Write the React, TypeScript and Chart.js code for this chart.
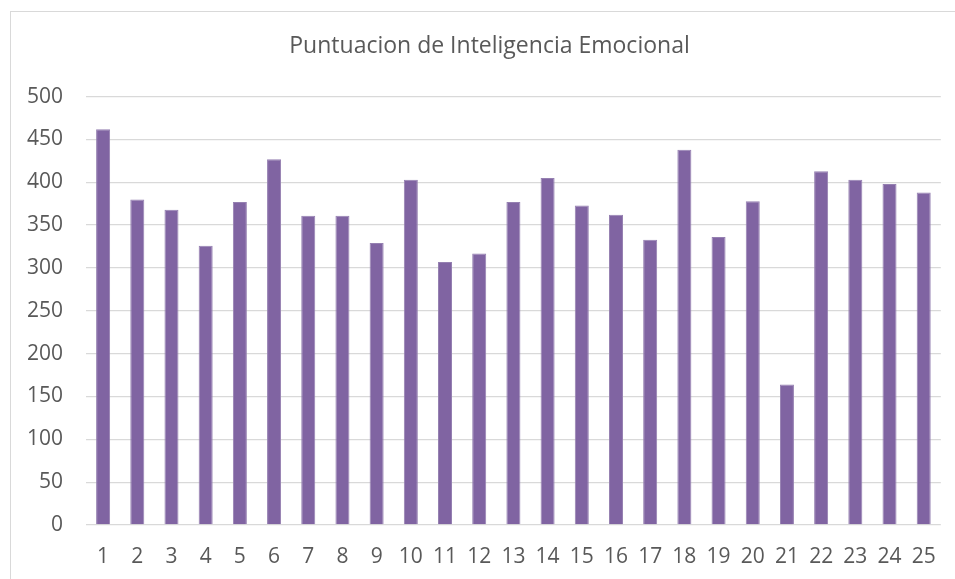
import React, { useEffect, useRef } from "react";
import { Chart, registerables } from "chart.js";

Chart.register(...registerables);

const categories = ["1","2","3","4","5","6","7","8","9","10","11","12","13","14","15","16","17","18","19","20","21","22","23","24","25"];
const scores = [462, 380, 368, 326, 377, 427, 361, 361, 329, 403, 307, 317, 377, 405, 373, 362, 333, 438, 336, 378, 164, 413, 403, 398, 388];
const chartTitle = "Puntuacion de Inteligencia Emocional";
const yMin = 0;
const yMax = 500;
const yStep = 50;

const FONT = "'Open Sans', sans-serif";
const TEXT = "#595959";

const frame = {
  id: "frame",
  afterLayout(chart: any) {
    if (chart.titleBlock) {
      chart.titleBlock.left = 38;
    }
  },
  beforeDraw(chart: any) {
    const ctx = chart.ctx;
    ctx.save();
    ctx.fillStyle = "#ffffff";
    ctx.fillRect(0, 0, chart.width, chart.height);
    ctx.strokeStyle = "#d9d9d9";
    ctx.lineWidth = 1;
    ctx.strokeRect(10.5, 11.5, chart.width + 20, chart.height + 20);
    ctx.restore();
  },
};

export default function App() {
  const ref = useRef<HTMLCanvasElement>(null);
  useEffect(() => {
    if (!ref.current) return;
    const chart = new Chart(ref.current, {
      type: "bar",
      data: {
        labels: categories,
        datasets: [
          {
            data: scores,
            backgroundColor: "#8064a2",
            borderColor: "#9580b1",
            borderWidth: 1,
            barPercentage: 0.41,
            categoryPercentage: 1,
          },
        ],
      },
      options: {
        animation: false,
        responsive: false,
        maintainAspectRatio: false,
        layout: { padding: { left: 0, right: 14, top: 21, bottom: 0 } },
        plugins: {
          legend: { display: false },
          tooltip: { enabled: false },
          title: {
            display: true,
            text: chartTitle,
            color: TEXT,
            font: { family: FONT, size: 23, weight: "normal" },
            padding: { top: 12, bottom: 36 },
          },
        },
        scales: {
          x: {
            grid: { display: false, drawTicks: false },
            border: { display: false },
            ticks: {
              color: TEXT,
              font: { family: FONT, size: 21 },
              padding: 19,
              maxRotation: 0,
              autoSkip: false,
            },
            afterFit(scale: any) {
              scale.height = 54;
            },
          },
          y: {
            min: yMin,
            max: yMax,
            grid: { color: "#d9d9d9", lineWidth: 1.3, drawTicks: false },
            border: { display: false },
            ticks: {
              stepSize: yStep,
              color: TEXT,
              font: { family: FONT, size: 21 },
              padding: 23,
            },
            afterFit(scale: any) {
              scale.width = 86;
            },
          },
        },
      },
      plugins: [frame],
    });
    return () => chart.destroy();
  }, []);
  return (
    <div style={{ position: "absolute", left: 0, top: 0, width: 955, height: 579 }}>
      <canvas ref={ref} width={955} height={579} style={{ display: "block" }} />
    </div>
  );
}
